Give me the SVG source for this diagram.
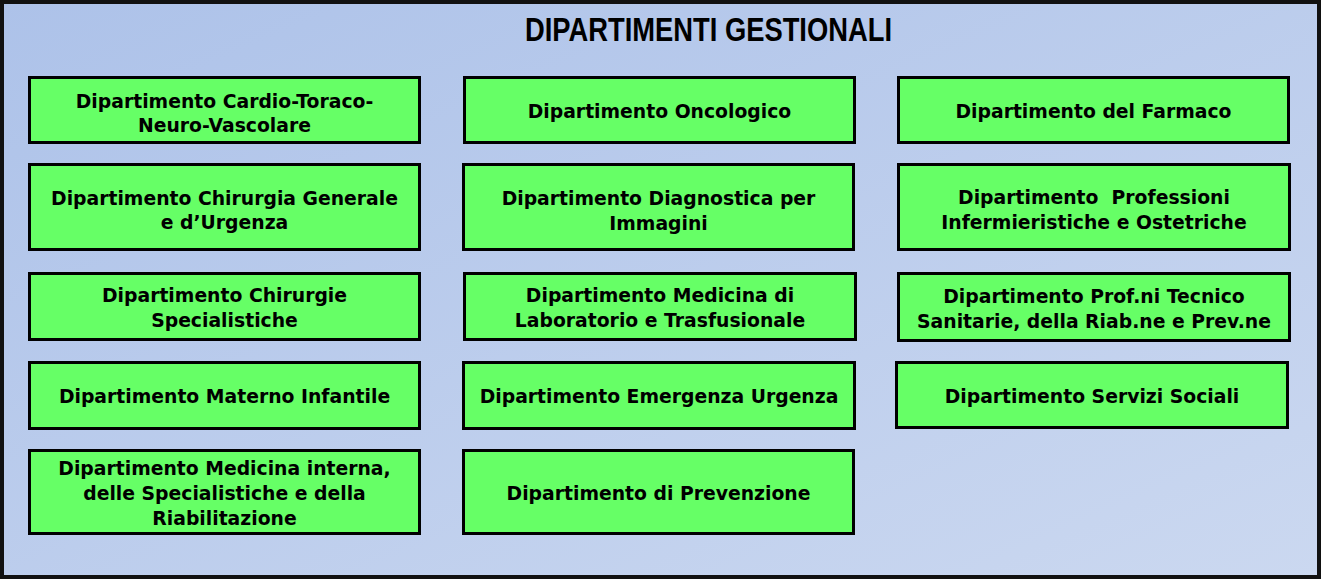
<svg xmlns="http://www.w3.org/2000/svg" width="1321" height="579" viewBox="0 0 1321 579">
<defs>
<linearGradient id="bg" x1="0" y1="0" x2="1" y2="1">
<stop offset="0" stop-color="#adc2e9"/>
<stop offset="1" stop-color="#cbd8f0"/>
</linearGradient>
</defs>
<style>
.box{fill:#66ff66;stroke:#000;stroke-width:3}
.t{font-family:"DejaVu Sans",Verdana,sans-serif;font-weight:bold;font-size:18.8px;fill:#000;text-anchor:middle;white-space:pre}
.title{font-family:"Liberation Sans Narrow","Liberation Sans",Arial,sans-serif;font-weight:bold;font-size:33px;fill:#000;text-anchor:middle}
</style>
<rect x="2" y="2" width="1317" height="575" fill="url(#bg)" stroke="#111" stroke-width="4"/>
<text class="title" x="708.5" y="41" textLength="367" lengthAdjust="spacingAndGlyphs">DIPARTIMENTI GESTIONALI</text>

<g id="cardio">
<rect class="box" x="29.5" y="77.5" width="390" height="65"/>
<text class="t" x="224.5" y="108">Dipartimento Cardio-Toraco-</text>
<text class="t" x="224.5" y="132">Neuro-Vascolare</text>
</g>
<g id="oncologico">
<rect class="box" x="464.5" y="77.5" width="390" height="65"/>
<text class="t" x="659.5" y="118">Dipartimento Oncologico</text>
</g>
<g id="farmaco">
<rect class="box" x="898.5" y="77.5" width="390" height="65"/>
<text class="t" x="1093.5" y="118">Dipartimento del Farmaco</text>
</g>

<g id="chirurgia-generale">
<rect class="box" x="29.5" y="164.5" width="390" height="85"/>
<text class="t" x="224.5" y="204.5">Dipartimento Chirurgia Generale</text>
<text class="t" x="224.5" y="229">e d’Urgenza</text>
</g>
<g id="diagnostica">
<rect class="box" x="463.5" y="164.5" width="390" height="85"/>
<text class="t" x="658.5" y="204.5">Dipartimento Diagnostica per</text>
<text class="t" x="658.5" y="229.5">Immagini</text>
</g>
<g id="professioni-infermieristiche">
<rect class="box" x="898.5" y="164.5" width="391" height="85"/>
<text class="t" x="1094" y="204" xml:space="preserve">Dipartimento  Professioni</text>
<text class="t" x="1094" y="229">Infermieristiche e Ostetriche</text>
</g>

<g id="chirurgie-specialistiche">
<rect class="box" x="29.5" y="273.5" width="390" height="66"/>
<text class="t" x="224.5" y="302">Dipartimento Chirurgie</text>
<text class="t" x="224.5" y="327">Specialistiche</text>
</g>
<g id="medicina-laboratorio">
<rect class="box" x="464.5" y="273.5" width="391" height="66"/>
<text class="t" x="660" y="302">Dipartimento Medicina di</text>
<text class="t" x="660" y="327">Laboratorio e Trasfusionale</text>
</g>
<g id="prof-tecnico">
<rect class="box" x="898.5" y="273.5" width="391" height="67"/>
<text class="t" x="1094" y="303">Dipartimento Prof.ni Tecnico</text>
<text class="t" x="1094" y="328">Sanitarie, della Riab.ne e Prev.ne</text>
</g>

<g id="materno-infantile">
<rect class="box" x="29.5" y="362.5" width="390" height="66"/>
<text class="t" x="224.5" y="403">Dipartimento Materno Infantile</text>
</g>
<g id="emergenza-urgenza">
<rect class="box" x="463.5" y="362.5" width="391" height="66"/>
<text class="t" x="659" y="403">Dipartimento Emergenza Urgenza</text>
</g>
<g id="servizi-sociali">
<rect class="box" x="896.5" y="362.5" width="391" height="65"/>
<text class="t" x="1092" y="403">Dipartimento Servizi Sociali</text>
</g>

<g id="medicina-interna">
<rect class="box" x="29.5" y="450.5" width="390" height="83"/>
<text class="t" x="224.5" y="475">Dipartimento Medicina interna,</text>
<text class="t" x="224.5" y="500">delle Specialistiche e della</text>
<text class="t" x="224.5" y="525">Riabilitazione</text>
</g>
<g id="prevenzione">
<rect class="box" x="463.5" y="450.5" width="390" height="83"/>
<text class="t" x="658.5" y="500">Dipartimento di Prevenzione</text>
</g>

<g id="connectors"></g>
</svg>
